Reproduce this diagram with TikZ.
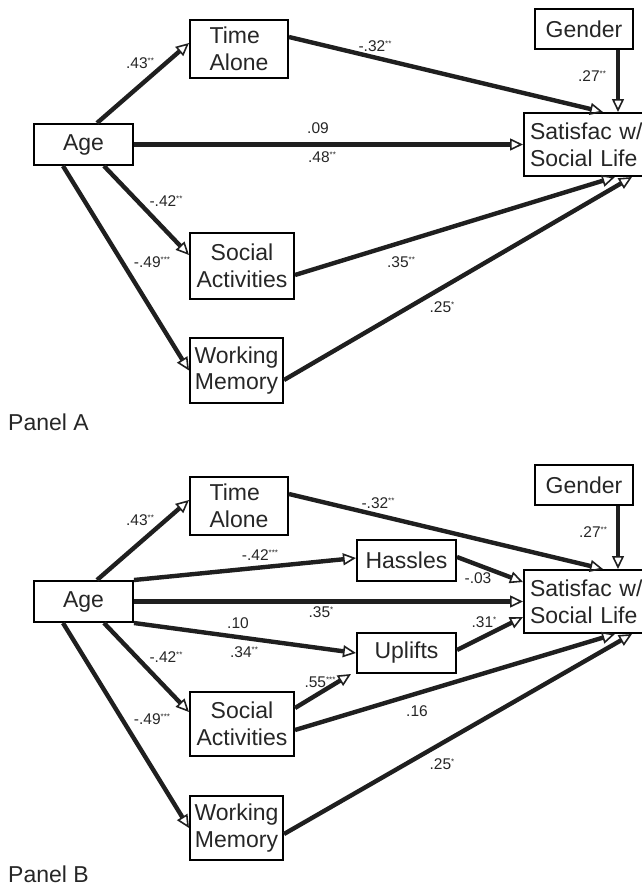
\documentclass[tikz,border=0pt]{standalone}
\usepackage{fontspec}
\setmainfont{Liberation Sans}
\usetikzlibrary{arrows.meta}
\newcommand{\sg}[1]{\raisebox{5pt}{\fontsize{8}{8}\selectfont #1}}
\begin{document}
\begin{tikzpicture}[x=1pt,y=-1pt,
  box/.style={draw, line width=2pt, inner sep=0pt, align=center,
    font=\fontsize{23}{26.6}\selectfont, text=black!85},
  satbox/.style={draw, line width=2pt, inner xsep=6pt, inner ysep=0pt,
    text width=122pt, align=left, minimum height=63pt, anchor=west,
    font=\fontsize{23}{26.6}\selectfont, text=black!85},
  path/.style={line width=4.4pt, draw=black!88,
    -{Triangle[open, length=13pt, width=12pt, line width=1.6pt]}},
  coef/.style={font=\fontsize{15.5}{15.5}\selectfont, inner sep=0pt, text=black!85},
  panel/.style={font=\fontsize{23}{23}\selectfont, anchor=base west, inner sep=0pt, text=black!85}
]
\useasboundingbox (0,0) rectangle (642,886);

% ---------------- Panel A ----------------
\node[box, minimum width=99pt, minimum height=41pt] (ageA) at (83.5,144.5) {Age};
\node[box, minimum width=98pt, minimum height=58pt, align=left] (timeA) at (239,49) {Time\\Alone};
\node[box, minimum width=98pt, minimum height=40pt] (genA) at (584,29) {Gender};
\node[satbox] (satA) at (523,144.5) {Satisfac w/\\Social Life};
\node[box, minimum width=104pt, minimum height=66pt] (socA) at (242,266) {Social\\Activities};
\node[box, minimum width=93pt, minimum height=65pt] (wmA) at (236.5,370.5) {Working\\Memory};
\node[panel] (panA) at (8,430) {Panel A};

\draw[path] ([xshift=13.5pt]ageA.north) -- ([yshift=6pt]timeA.west);
\draw[path] (ageA.east) -- (satA.west);
\draw[path] ([yshift=12pt]timeA.east) -- ([xshift=80pt]satA.north west);
\draw[path] ([xshift=34pt]genA.south) -- ([xshift=95pt]satA.north west);
\draw[path] ([yshift=-9pt]socA.east) -- ([xshift=92pt]satA.south west);
\draw[path] ([yshift=-9.5pt]wmA.east) -- ([xshift=109pt]satA.south west);
\draw[path] ([xshift=20.5pt]ageA.south) -- ([yshift=11pt]socA.west);
\draw[path] ([xshift=-20.5pt]ageA.south) -- (wmA.west);

\node[coef] (a1) at (140,63) {.43\sg{**}};
\node[coef] (a2) at (375,46) {-.32\sg{**}};
\node[coef] (a3) at (318,128) {.09};
\node[coef] (a4) at (322,157) {.48\sg{**}};
\node[coef] (a5) at (592,76) {.27\sg{**}};
\node[coef] (a6) at (166,201) {-.42\sg{**}};
\node[coef] (a7) at (152,262) {-.49\sg{***}};
\node[coef] (a8) at (401,262) {.35\sg{**}};
\node[coef] (a9) at (442,307) {.25\sg{*}};

% ---------------- Panel B ----------------
\node[box, minimum width=99pt, minimum height=41pt] (ageB) at (83.5,601.5) {Age};
\node[box, minimum width=98pt, minimum height=58pt, align=left] (timeB) at (239,505.5) {Time\\Alone};
\node[box, minimum width=98pt, minimum height=40pt] (genB) at (584,485) {Gender};
\node[satbox] (satB) at (523,601.5) {Satisfac w/\\Social Life};
\node[box, minimum width=99pt, minimum height=41pt] (hass) at (406.5,560.5) {Hassles};
\node[box, minimum width=99pt, minimum height=40pt] (upl) at (406.5,653) {Uplifts};
\node[box, minimum width=104pt, minimum height=64pt] (socB) at (242,723.5) {Social\\Activities};
\node[box, minimum width=93pt, minimum height=64pt] (wmB) at (236.5,828) {Working\\Memory};
\node[panel] (panB) at (8,882) {Panel B};

\draw[path] ([xshift=13.5pt]ageB.north) -- ([yshift=5.5pt]timeB.west);
\draw[path] ([yshift=11.5pt]timeB.east) -- ([xshift=80pt]satB.north west);
\draw[path] ([xshift=34pt]genB.south) -- ([xshift=95pt]satB.north west);
\draw[path] (ageB.north east) -- ([yshift=2.5pt]hass.west);
\draw[path] ([yshift=3.5pt]hass.east) -- ([yshift=19.5pt]satB.west);
\draw[path] (ageB.east) -- (satB.west);
\draw[path] (ageB.south east) -- (upl.west);
\draw[path] ([yshift=3pt]upl.east) -- ([yshift=-15.5pt]satB.west);
\draw[path] ([yshift=15.5pt]socB.east) -- ([xshift=-5pt]upl.south west);
\draw[path] ([yshift=-6.5pt]socB.east) -- ([xshift=92pt]satB.south west);
\draw[path] ([yshift=-6pt]wmB.east) -- ([xshift=109pt]satB.south west);
\draw[path] ([xshift=20.5pt]ageB.south) -- ([yshift=11.5pt]socB.west);
\draw[path] ([xshift=-20.5pt]ageB.south) -- (wmB.west);

\node[coef] (b1) at (140,520) {.43\sg{**}};
\node[coef] (b2) at (260,555) {-.42\sg{***}};
\node[coef] (b3) at (378,503) {-.32\sg{**}};
\node[coef] (b4) at (593,532) {.27\sg{**}};
\node[coef] (b5) at (478,578) {-.03};
\node[coef] (b6) at (321,612) {.35\sg{*}};
\node[coef] (b7) at (238,623) {.10};
\node[coef] (b8) at (244,652) {.34\sg{**}};
\node[coef] (b9) at (484,622) {.31\sg{*}};
\node[coef] (b10) at (166,657) {-.42\sg{**}};
\node[coef] (b11) at (320,682) {.55\sg{***}};
\node[coef] (b12) at (417,711) {.16};
\node[coef] (b13) at (442,764) {.25\sg{*}};
\node[coef] (b14) at (152,719) {-.49\sg{***}};
\end{tikzpicture}
\end{document}
